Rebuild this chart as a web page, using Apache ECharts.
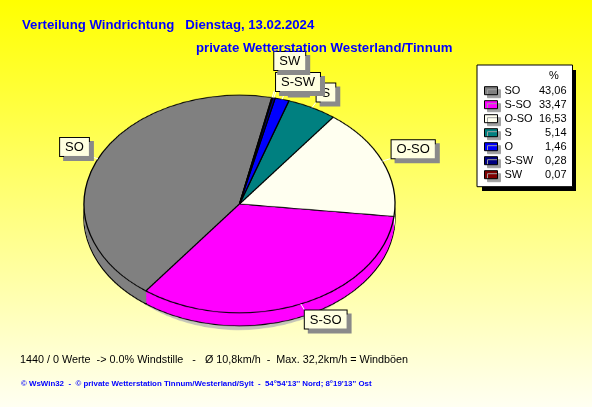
<!DOCTYPE html>
<html><head><meta charset="utf-8">
<script src="https://cdn.jsdelivr.net/npm/echarts@6/dist/echarts.min.js"></script>
<style>
html,body{margin:0;padding:0;overflow:hidden;background:#fff;}
#wrap{position:relative;width:592px;height:407px;background:linear-gradient(#ffff00,#fffff2);}
#pie{position:absolute;left:0;top:0;width:592px;transform-origin:0 0;}
#main{position:absolute;left:0;top:0;width:592px;height:407px;}
</style>
</head><body>
<div id="wrap"><div id="pie"></div><div id="main"></div></div>
<script>
// ---- data ----
const categories = ['SO', 'S-SO', 'O-SO', 'S', 'O', 'S-SW', 'SW'];
const percentages = [43.06, 33.47, 16.53, 5.14, 1.46, 0.28, 0.07];
const colors = ['#808080', '#FF00FF', '#FFFFF0', '#008080', '#0000FF', '#000080', '#800000'];
const titleLine = 'Verteilung Windrichtung   Dienstag, 13.02.2024';
const stationLine = 'private Wetterstation Westerland/Tinnum';
const statsLine = '1440 / 0 Werte  -> 0.0% Windstille   -   \u00D8 10,8km/h  -  Max. 32,2km/h = Windb\u00F6en';
const footerLine = "\u00A9 WsWin32  -  \u00A9 private Wetterstation Tinnum/Westerland/Sylt  -  54\u00B054'13'' Nord; 8\u00B019'13'' Ost";
const legendHeader = '%';

// ---- geometry / style ----
const W = 592, H = 407;
const CX = 239.5, CY = 204, R = 155.5, K = 0.70, DEPTH = 13, START = 78;
const FF = '"Liberation Sans", Arial, sans-serif';
const LEG = { x: 477, y: 65, w: 94, h: 121 };

const pieData = categories.map((n, i) => ({ name: n, value: percentages[i] }));

// ---------- bottom layer: tilted 3D pie (vertically squashed by CSS) ----------
const pieDiv = document.getElementById('pie');
pieDiv.style.height = (H / K) + 'px';
pieDiv.style.transform = 'scaleY(' + K + ')';
const pieChart = echarts.init(pieDiv, null, { renderer: 'canvas' });

function pieLayer(offset, opts) {
  return Object.assign({
    type: 'pie',
    center: [CX, (CY + offset) / K],
    radius: [0, R],
    startAngle: START,
    clockwise: false,
    avoidLabelOverlap: false,
    silent: true,
    animation: false,
    label: { show: false },
    labelLine: { show: false },
    emphasis: { disabled: true },
    data: pieData,
    itemStyle: { color: p => colors[p.dataIndex], borderWidth: 0 }
  }, opts || {});
}
const baseSeries = [];
// soft drop shadow under the pie
baseSeries.push(pieLayer(28, { radius: [0, 140], itemStyle: { color: '#c4c4b8', borderWidth: 0 } }));
// side wall (stacked layers)
for (let d = DEPTH; d >= 1; d--) {
  baseSeries.push(pieLayer(d, d === DEPTH
    ? { itemStyle: { color: p => colors[p.dataIndex], borderColor: '#000', borderWidth: 1.3 } }
    : {}));
}
// top face
baseSeries.push(pieLayer(0, { itemStyle: { color: p => colors[p.dataIndex], borderColor: '#000', borderWidth: 1.3 } }));

pieChart.setOption({ animation: false, backgroundColor: 'transparent', series: baseSeries });

// ---------- top layer: texts, legend, labels ----------
const chart = echarts.init(document.getElementById('main'), null, { renderer: 'canvas' });
const fmt = v => v.toFixed(2).replace('.', ',');

const placed = [];
function layoutLabel(p) {
  const pts = p.labelLinePoints;
  if (!pts) return {};
  const sq = pt => [pt[0], CY + (pt[1] - CY) * K];
  const e = sq(pts[0]), a = sq(pts[1]);
  const right = a[0] >= CX, upper = a[1] < CY;
  const h = p.labelRect.height;
  let y = a[1];
  for (let i = 0; i < p.dataIndex; i++) {
    const q = placed[i];
    if (q && Math.hypot(q.ax - a[0], q.ay - a[1]) < 4) {
      y = q.top - 1;
    }
  }
  placed[p.dataIndex] = { ax: a[0], ay: a[1], top: upper ? y - h : y };
  return {
    x: a[0], y: y,
    align: right ? 'left' : 'right',
    verticalAlign: upper ? 'bottom' : 'top',
    labelLinePoints: [e, a, a]
  };
}

chart.setOption({
  animation: false,
  title: [
    { text: titleLine, left: 22, top: 18, padding: 0,
      textStyle: { color: '#0000FF', fontSize: 13.2, fontWeight: 'bold', fontFamily: FF, lineHeight: 15 } },
    { text: stationLine, left: 196, top: 41, padding: 0,
      textStyle: { color: '#0000FF', fontSize: 13.2, fontWeight: 'bold', fontFamily: FF, lineHeight: 15 } },
    { text: statsLine, left: 20, top: 353, padding: 0,
      textStyle: { color: '#000', fontSize: 10.8, fontWeight: 'normal', fontFamily: FF, lineHeight: 14 } },
    { text: footerLine, left: 21, top: 379, padding: 0,
      textStyle: { color: '#0000FF', fontSize: 7.9, fontWeight: 'bold', fontFamily: FF, lineHeight: 10 } }
  ],
  legend: {
    orient: 'vertical', left: LEG.x, top: LEG.y,
    padding: [18.7, 6, 5, 7],
    itemWidth: 13, itemHeight: 8, itemGap: 0,
    backgroundColor: '#fff', borderColor: '#000', borderWidth: 1, borderRadius: 0,
    icon: 'rect', selectedMode: false, z: 5,
    itemStyle: { borderColor: '#000', borderWidth: 1, opacity: 1,
      shadowColor: '#a0a0a0', shadowOffsetX: 3, shadowOffsetY: 3, shadowBlur: 0 },
    textStyle: { fontFamily: FF, fontSize: 11, color: '#000', lineHeight: 14,
      rich: {
        n: { fontFamily: FF, fontSize: 11, color: '#000', width: 34, lineHeight: 14, padding: [0, 0, 0, 2] },
        v: { fontFamily: FF, fontSize: 11, color: '#000', width: 28, align: 'right', lineHeight: 14 }
      } },
    formatter: name => '{n|' + name + '}{v|' + fmt(percentages[categories.indexOf(name)]) + '}',
    data: categories.map((n, i) => ({ name: n, itemStyle: { color: colors[i] } }))
  },
  graphic: [
    { type: 'rect', left: LEG.x + 5, top: LEG.y + 5, z: 1, silent: true,
      shape: { width: LEG.w, height: LEG.h }, style: { fill: '#000' } },
    { type: 'text', left: 549, top: 70, z: 100, silent: true,
      style: { text: legendHeader, fill: '#000', font: '11px ' + FF } }
  ],
  series: [{
    type: 'pie',
    center: [CX, CY],
    radius: [0, R],
    startAngle: START,
    clockwise: false,
    avoidLabelOverlap: false,
    silent: true,
    animation: false,
    emphasis: { disabled: true },
    itemStyle: { color: 'rgba(0,0,0,0)', borderWidth: 0 },
    label: {
      show: true, position: 'outside', formatter: '{b}',
      color: '#000', fontFamily: FF, fontSize: 13, lineHeight: 15,
      backgroundColor: '#FFFFE0', borderColor: '#000', borderWidth: 1,
      padding: [2, 5, 1, 5],
      shadowColor: '#8a8a8a', shadowOffsetX: 4, shadowOffsetY: 4, shadowBlur: 0
    },
    labelLine: { show: true, length: 10, length2: 0, lineStyle: { color: '#fff', width: 1 } },
    labelLayout: layoutLabel,
    data: pieData
  }]
});
</script>
</body></html>
